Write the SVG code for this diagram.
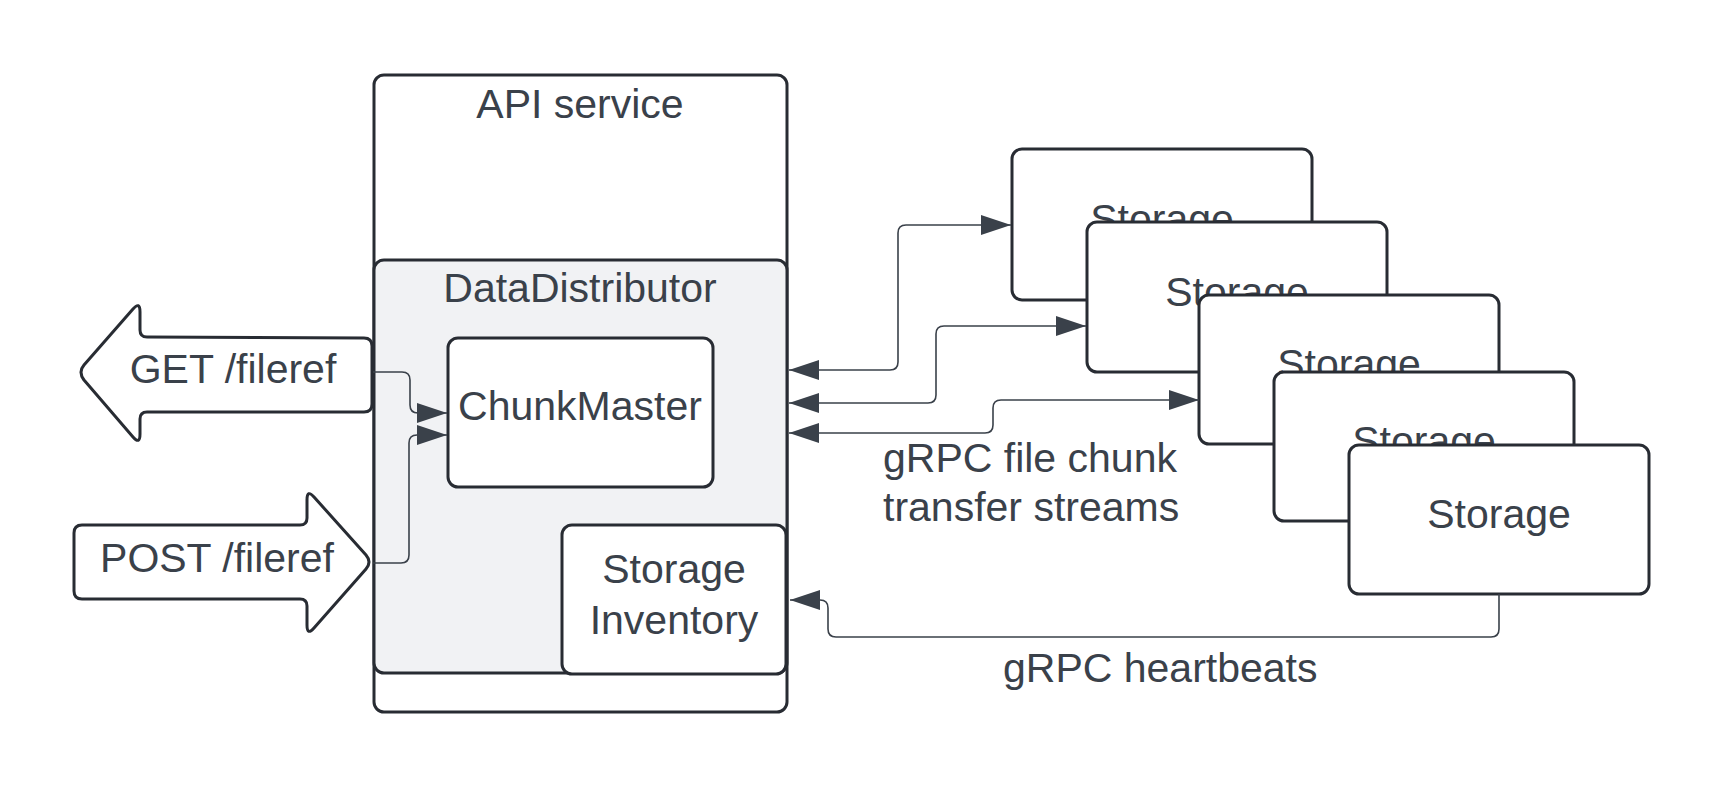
<svg xmlns="http://www.w3.org/2000/svg" width="1725" height="788" viewBox="0 0 1725 788">
<style>
.box{fill:#ffffff;stroke:#282c33;stroke-width:3;stroke-linejoin:round}
.dd{fill:#f1f2f4;stroke:#282c33;stroke-width:3}
.t{font-family:"Liberation Sans",Arial,sans-serif;font-size:41px;fill:#3a414a;text-anchor:middle}
.tl{font-family:"Liberation Sans",Arial,sans-serif;font-size:41px;fill:#3a414a;text-anchor:start}
.c{fill:none;stroke:#3a414a;stroke-width:1.6}
</style>
<defs>
<marker id="ah" viewBox="0 0 30 20" refX="30" refY="10" markerWidth="30" markerHeight="20" markerUnits="userSpaceOnUse" orient="auto-start-reverse">
<path d="M0,0 L30,10 L0,20 Z" fill="#3a414a"/>
</marker>
</defs>
<rect width="1725" height="788" fill="#ffffff"/>
<g id="get-arrow">
<path class="box" d="M84,365 L133,309 Q140,301 140,312 L140,330 Q140,337 147,337 L364,338 Q372,338 372,346 L372,404 Q372,412 364,412 L147,412 Q140,412 140,419 L140,434 Q140,445 133,437 L84,380 Q78,372 84,365 Z"/>
<text class="t" x="233" y="383">GET /fileref</text>
</g>
<g id="post-arrow">
<path class="box" d="M82,525 L300,525 Q307,525 307,518 L307,500 Q307,489 314,497 L366,555 Q372,562 366,569 L314,628 Q307,636 307,625 L307,606 Q307,599 300,599 L82,599 Q74,599 74,591 L74,533 Q74,525 82,525 Z"/>
<text class="t" x="217" y="572">POST /fileref</text>
</g>
<g id="api-service">
<rect class="box" x="374" y="75" width="413" height="637" rx="10"/>
<text class="t" x="580" y="118">API service</text>
</g>
<g id="data-distributor">
<rect class="dd" x="374" y="260" width="413" height="413" rx="10"/>
<text class="t" x="580" y="302">DataDistributor</text>
</g>
<g id="chunk-master">
<rect class="box" x="448" y="338" width="265" height="149" rx="10"/>
<text class="t" x="580" y="420">ChunkMaster</text>
</g>
<g id="storage-inventory">
<rect class="box" x="562" y="525" width="224" height="149" rx="10"/>
<text class="t" x="674" y="583">Storage</text>
<text class="t" x="674" y="634">Inventory</text>
</g>
<g id="storage-1">
<rect class="box" x="1012" y="149" width="300" height="151" rx="10"/>
<text class="t" x="1162" y="233">Storage</text>
</g>
<g id="storage-2">
<rect class="box" x="1087" y="222" width="300" height="150" rx="10"/>
<text class="t" x="1237" y="306">Storage</text>
</g>
<g id="storage-3">
<rect class="box" x="1199" y="295" width="300" height="149" rx="10"/>
<text class="t" x="1349" y="378">Storage</text>
</g>
<g id="storage-4">
<rect class="box" x="1274" y="372" width="300" height="149" rx="10"/>
<text class="t" x="1424" y="455">Storage</text>
</g>
<g id="storage-5">
<rect class="box" x="1349" y="445" width="300" height="149" rx="10"/>
<text class="t" x="1499" y="528">Storage</text>
</g>
<g id="connectors">
<path class="c" d="M373,372 H402 Q410,372 410,380 V405 Q410,413 418,413 H447" marker-end="url(#ah)"/>
<path class="c" d="M373,563 H401 Q409,563 409,555 V443 Q409,435 417,435 H447" marker-end="url(#ah)"/>
<path class="c" d="M789,370 H890 Q898,370 898,362 V233 Q898,225 906,225 H1011" marker-start="url(#ah)" marker-end="url(#ah)"/>
<path class="c" d="M789,403 H928 Q936,403 936,395 V334 Q936,326 944,326 H1086" marker-start="url(#ah)" marker-end="url(#ah)"/>
<path class="c" d="M789,433 H985 Q993,433 993,425 V408 Q993,400 1001,400 H1199" marker-start="url(#ah)" marker-end="url(#ah)"/>
<path class="c" d="M1499,594 V629 Q1499,637 1491,637 H836 Q828,637 828,629 V608 Q828,600 820,600 H790" marker-end="url(#ah)"/>
<text class="tl" x="883" y="472">gRPC file chunk</text>
<text class="tl" x="883" y="521">transfer streams</text>
<text class="tl" x="1003" y="682">gRPC heartbeats</text>
</g>
</svg>
